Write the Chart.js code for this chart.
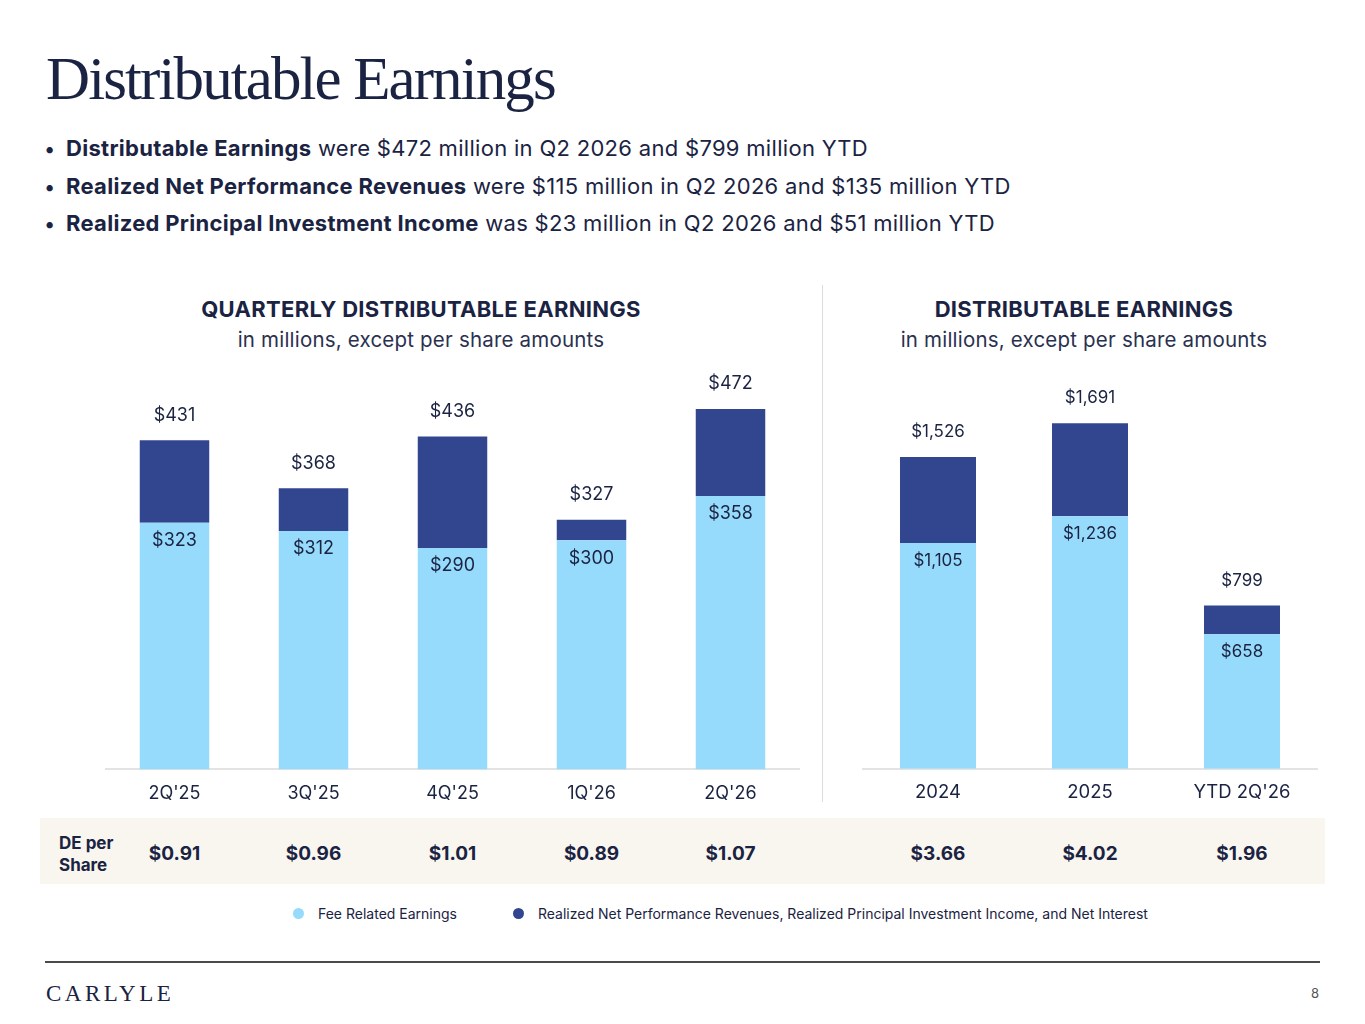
<!DOCTYPE html>
<html>
<head>
<meta charset="utf-8">
<script src="https://cdn.jsdelivr.net/npm/chart.js@4.4.1/dist/chart.umd.min.js"></script>
<style>
  html, body { margin: 0; padding: 0; background: #fff; }
  body { width: 1365px; height: 1024px; position: relative; overflow: hidden; font-family: Inter, "Noto Sans", sans-serif; color: #1b2342; }
  .abs { position: absolute; }
  #title { left: 46px; top: 48px; font-family: "Liberation Serif", "DejaVu Serif", serif; font-size: 61px; color: #1b2342; letter-spacing: -1.9px; white-space: nowrap; line-height: 1; }
  .bullets { left: 44px; top: 130px; font-size: 22px; line-height: 36.5px; letter-spacing: 0.3px; }
  .bullets div { white-space: nowrap; }
  .bullets div::before { content: "\2022"; display: inline-block; width: 22px; text-align: left; font-size: 20px; }
  .bullets b { font-weight: 700; }
  .ctitle { font-weight: 700; font-size: 22px; letter-spacing: 0.3px; text-align: center; white-space: nowrap; }
  .csub { font-size: 20.5px; letter-spacing: 0.2px; text-align: center; white-space: nowrap; color: #2a3150; }
  #divider { left: 822px; top: 285px; width: 1px; height: 517px; background: #dcdcdc; }
  #band { left: 40px; top: 818px; width: 1285px; height: 66px; background: #f9f6ef; }
  #deLabel { left: 59px; top: 832px; font-weight: 700; font-size: 17px; line-height: 22px; }
  .dps { top: 842px; font-weight: 700; font-size: 19px; transform: translateX(-50%); white-space: nowrap; }
  .legend { top: 905px; font-size: 14px; white-space: nowrap; color: #1b2342; display: flex; align-items: center; }
  .legend span.dot { display: inline-block; width: 11px; height: 11px; border-radius: 50%; margin-right: 14px; }
  #rule { left: 45px; top: 961px; width: 1275px; height: 2px; background: #4a4a4a; }
  #logo { left: 46px; top: 981px; font-family: "Liberation Serif", serif; font-size: 23px; letter-spacing: 3.5px; color: #1b2342; }
  #page { left: 1311px; top: 985px; font-size: 13px; color: #555; }
</style>
</head>
<body>
<div id="title" class="abs">Distributable Earnings</div>
<div class="abs bullets">
  <div><b>Distributable Earnings</b> were $472 million in Q2 2026 and $799 million YTD</div>
  <div><b>Realized Net Performance Revenues</b> were $115 million in Q2 2026 and $135 million YTD</div>
  <div><b>Realized Principal Investment Income</b> was $23 million in Q2 2026 and $51 million YTD</div>
</div>

<div class="abs ctitle" style="left:121px; width:600px; top:296px;">QUARTERLY DISTRIBUTABLE EARNINGS</div>
<div class="abs csub" style="left:121px; width:600px; top:327px;">in millions, except per share amounts</div>
<div class="abs ctitle" style="left:784px; width:600px; top:296px;">DISTRIBUTABLE EARNINGS</div>
<div class="abs csub" style="left:784px; width:600px; top:327px;">in millions, except per share amounts</div>

<div id="divider" class="abs"></div>

<div class="abs" style="left:105px; top:360px; width:695px; height:457px;"><canvas id="qChart"></canvas></div>
<div class="abs" style="left:862px; top:360px; width:456px; height:457px;"><canvas id="yChart"></canvas></div>

<div id="band" class="abs"></div>
<div id="deLabel" class="abs">DE per<br>Share</div>
<div id="dpsRow"></div>

<div class="abs legend" style="left:293px;"><span class="dot" style="background:#97dbfc;"></span>Fee Related Earnings</div>
<div class="abs legend" style="left:513px;"><span class="dot" style="background:#32468f;"></span>Realized Net Performance Revenues, Realized Principal Investment Income, and Net Interest</div>

<div id="rule" class="abs"></div>
<div id="logo" class="abs">CARLYLE</div>
<div id="page" class="abs">8</div>

<script>
// Quarterly
const quarters = ["2Q'25", "3Q'25", "4Q'25", "1Q'26", "2Q'26"];
const quarterFRE = [323, 312, 290, 300, 358];
const quarterOther = [108, 56, 146, 27, 114];
const quarterTotal = [431, 368, 436, 327, 472];
const quarterDPS = ['$0.91', '$0.96', '$1.01', '$0.89', '$1.07'];

// Annual
const years = ['2024', '2025', "YTD 2Q'26"];
const yearFRE = [1105, 1236, 658];
const yearOther = [421, 455, 141];
const yearTotal = [1526, 1691, 799];
const yearDPS = ['$3.66', '$4.02', '$1.96'];

const lightBlue = '#97dbfc';
const navy = '#32468f';
const textColor = '#1b2342';

function fmt(v) {
    return '$' + v.toLocaleString('en-US');
}

// draws the FRE value under the split and the total above each bar
const valueLabels = {
    id: 'valueLabels',
    afterDatasetsDraw(chart, args, opts) {
        const ctx = chart.ctx;
        const fre = chart.getDatasetMeta(0);
        const other = chart.getDatasetMeta(1);
        ctx.save();
        ctx.fillStyle = textColor;
        ctx.font = opts.size + 'px Inter, sans-serif';
        ctx.textAlign = 'center';
        ctx.textBaseline = 'middle';
        fre.data.forEach((bar, i) => {
            ctx.fillText(fmt(chart.data.datasets[0].data[i]), bar.x, bar.y + 18);
            const top = other.data[i];
            ctx.fillText(fmt(opts.totals[i]), top.x, top.y - 25);
        });
        ctx.restore();
    }
};

function makeChart(id, labels, fre, other, totals, yMax, labelSize, tickSize) {
    return new Chart(document.getElementById(id), {
        type: 'bar',
        data: {
            labels: labels,
            datasets: [
                { label: 'Fee Related Earnings', data: fre, backgroundColor: lightBlue, barPercentage: 0.5, categoryPercentage: 1 },
                { label: 'Realized Net Performance Revenues, Realized Principal Investment Income, and Net Interest', data: other, backgroundColor: navy, barPercentage: 0.5, categoryPercentage: 1 }
            ]
        },
        options: {
            responsive: true,
            maintainAspectRatio: false,
            animation: false,
            layout: { padding: 0 },
            plugins: {
                legend: { display: false },
                tooltip: { enabled: false },
                valueLabels: { totals: totals, size: labelSize }
            },
            scales: {
                x: {
                    stacked: true,
                    grid: { display: false, drawTicks: false },
                    border: { display: true, color: '#e3e3e3', width: 2 },
                    ticks: { color: textColor, padding: 13, font: { family: 'Inter', size: tickSize } }
                },
                y: {
                    stacked: true,
                    display: false,
                    min: 0,
                    max: yMax
                }
            }
        },
        plugins: [valueLabels]
    });
}

const qChart = makeChart('qChart', quarters, quarterFRE, quarterOther, quarterTotal, 536, 18, 18);
const yChart = makeChart('yChart', years, yearFRE, yearOther, yearTotal, 2000, 17, 18.5);

// per-share row, aligned to each chart's category positions
function addDPS(chart, values, offsetLeft) {
    const row = document.getElementById('dpsRow');
    values.forEach((v, i) => {
        const d = document.createElement('div');
        d.className = 'abs dps';
        d.style.left = (offsetLeft + chart.scales.x.getPixelForValue(i)) + 'px';
        d.textContent = v;
        row.appendChild(d);
    });
}
addDPS(qChart, quarterDPS, 105);
addDPS(yChart, yearDPS, 862);
</script>
</body>
</html>
